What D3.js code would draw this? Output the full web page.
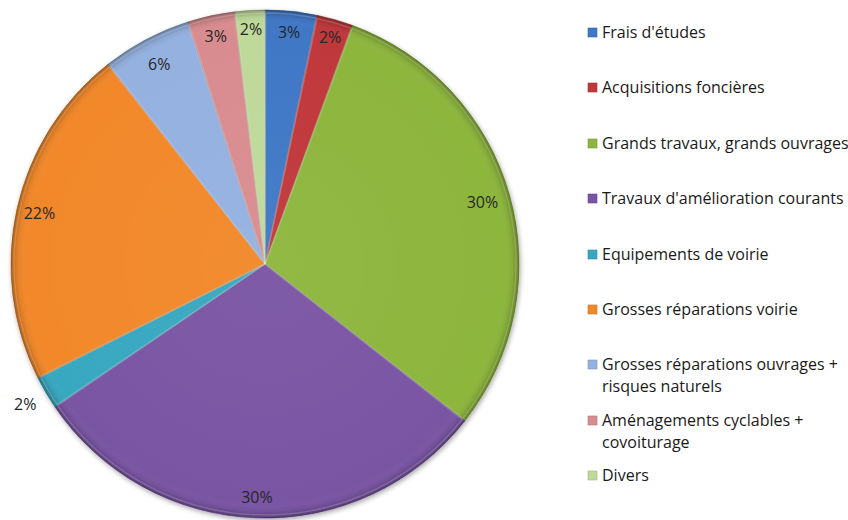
<!DOCTYPE html>
<html><head><meta charset="utf-8">
<script src="https://cdn.jsdelivr.net/npm/d3@7"></script>
<style>body{margin:0;background:#fff}svg{display:block}</style>
</head><body>
<svg id="chart" width="848" height="520"></svg>
<script>
const categories = ["Frais d'études","Acquisitions foncières","Grands travaux, grands ouvrages","Travaux d'amélioration courants","Equipements de voirie","Grosses réparations voirie","Grosses réparations ouvrages + risques naturels","Aménagements cyclables + covoiturage","Divers"];
const values = [3.3, 2.3, 30.0, 29.9, 2.1, 21.8, 5.7, 3.0, 1.9];
const labels = ["3%","2%","30%","30%","2%","22%","6%","3%","2%"];
const legendLines = [["Frais d'études"],["Acquisitions foncières"],["Grands travaux, grands ouvrages"],["Travaux d'amélioration courants"],["Equipements de voirie"],["Grosses réparations voirie"],["Grosses réparations ouvrages +","risques naturels"],["Aménagements cyclables +","covoiturage"],["Divers"]];
const colors = ["#3F78C6","#C0393A","#8DB63E","#7A54A4","#37A8C0","#F2882C","#94B1E0","#D98C90","#BFD99A"];

const svg = d3.select("#chart");
const cx = 265, cy = 264, R = 254;
const FONT = "'Open Sans', Lato, sans-serif";
const defs = svg.append("defs");
const f = defs.append("filter").attr("id","sh").attr("x","-10%").attr("y","-10%").attr("width","120%").attr("height","120%");
f.append("feGaussianBlur").attr("in","SourceAlpha").attr("stdDeviation",2.5).attr("result","b");
f.append("feOffset").attr("in","b").attr("dx",1).attr("dy",2).attr("result","o");
f.append("feComponentTransfer").attr("in","o").attr("result","o2").append("feFuncA").attr("type","linear").attr("slope",0.35);
const m = f.append("feMerge"); m.append("feMergeNode").attr("in","o2"); m.append("feMergeNode").attr("in","SourceGraphic");

const rg = defs.append("radialGradient").attr("id","rim").attr("gradientUnits","userSpaceOnUse")
  .attr("cx",0).attr("cy",0).attr("r",R);
rg.append("stop").attr("offset","0%").attr("stop-color","#fff").attr("stop-opacity",0.04);
rg.append("stop").attr("offset","94%").attr("stop-color","#fff").attr("stop-opacity",0);
rg.append("stop").attr("offset","97.5%").attr("stop-color","#000").attr("stop-opacity",0.06);
rg.append("stop").attr("offset","100%").attr("stop-color","#000").attr("stop-opacity",0.28);

const pie = d3.pie().sort(null).value(d=>d)(values);
const arc = d3.arc().innerRadius(0).outerRadius(R);
const g = svg.append("g").attr("transform",`translate(${cx},${cy})`);
const gs = g.append("g").attr("filter","url(#sh)");
gs.selectAll("path.s").data(pie).join("path").attr("class","s")
  .attr("d",arc).attr("fill",(d,i)=>colors[i])
  .attr("stroke",(d,i)=>d3.color(colors[i]).darker(0.6)).attr("stroke-width",0.8);
g.selectAll("path.r").data(pie).join("path").attr("class","r")
  .attr("d",arc).attr("fill","url(#rim)");
g.selectAll("path.h").data(pie).join("path").attr("class","h")
  .attr("d",d3.arc().innerRadius(0).outerRadius(R-3).padAngle(0.004))
  .attr("fill","none").attr("stroke","#fff").attr("stroke-opacity",0.18).attr("stroke-width",1.5);

// labels
const lr = [233, 236, 0.89*R, 0.92*R, R+24, 0.91*R, 0.89*R, 0.915*R, 0.925*R];
g.selectAll("text.l").data(pie).join("text").attr("class","l")
  .attr("transform",(d,i)=>{const a=(d.startAngle+d.endAngle)/2; const r=lr[i]; return `translate(${Math.sin(a)*r},${-Math.cos(a)*r})`;})
  .attr("text-anchor","middle").attr("dy","0.35em")
  .style("font-family",FONT).style("font-size","16px").attr("fill","#262626")
  .text((d,i)=>labels[i]);

// legend
const ly = [32, 87, 143, 198, 254, 309, 364, 420, 475];
const lg = svg.append("g");
legendLines.forEach((lines,i)=>{
  const gi = lg.append("g").attr("transform",`translate(588,${ly[i]})`);
  const c = d3.color(colors[i]);
  gi.append("rect").attr("x",0).attr("y",-4).attr("width",9).attr("height",9).attr("fill",colors[i]).attr("stroke",c.darker(0.5)).attr("stroke-width",0.6);
  const t = gi.append("text").attr("x",14).attr("y",0)
    .style("font-family",FONT).style("font-size","16px").attr("fill","#1a1a1a");
  lines.forEach((ln,j)=>t.append("tspan").attr("x",14).attr("dy",j===0?"0.35em":"22px").text(ln));
});
</script>
</body></html>
